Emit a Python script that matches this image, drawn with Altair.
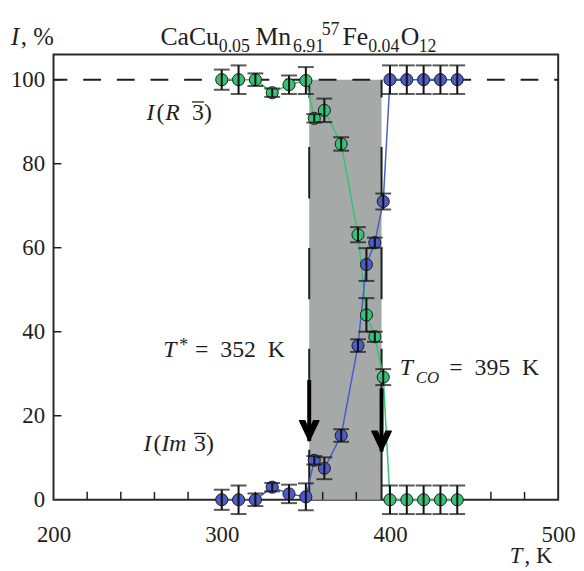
import altair as alt
import pandas as pd

# ---------------- data ----------------
T = [300, 310, 320, 330, 340, 350, 355, 361, 371, 381, 386, 391, 396, 400, 410, 420, 430, 440]
I_R3 = [100, 100, 100, 96.9, 98.8, 99.8, 90.8, 92.7, 84.7, 63.1, 44.0, 38.8, 29.2, 0, 0, 0, 0, 0]
ERR_R3 = [2.4, 3.4, 1.5, 1.0, 2.2, 3.2, 1.0, 2.8, 1.6, 1.8, 4.0, 1.2, 1.9, 3.4, 3.4, 3.4, 3.4, 3.4]
I_IM3 = [0, 0, 0, 3.0, 1.4, 0.7, 9.4, 7.5, 15.3, 36.7, 56.0, 61.2, 71.0, 100, 100, 100, 100, 100]
ERR_IM3 = [2.4, 3.4, 1.5, 1.0, 2.2, 3.2, 1.0, 2.6, 1.5, 1.5, 3.9, 1.2, 1.9, 3.4, 3.4, 3.4, 3.4, 3.4]
SERIES = ["R", "Im"]

T_STAR = 352
T_CO = 395
FULL_LEVEL = 100
ARROW_T = [352, 395]
ARROW_FROM = [28.5, 26.5]
ARROW_TO = [14.0, 11.5]

X_TICK_LABELS = [200, 300, 400, 500]
Y_TICK_LABELS = [0, 20, 40, 60, 80, 100]
X_MINOR = [220, 240, 260, 280, 300, 320, 340, 360, 380, 400, 420, 440, 460, 480]
Y_MINOR = [20, 40, 60, 80, 100]

# ---------------- layout / style ----------------
W, H = 510, 450
ORIGIN = (54, 52)  # page position of the plot area's top-left corner
X_DOMAIN = [200, 500]
Y_DOMAIN = [0, 106]
FONT = "Liberation Serif, DejaVu Serif, serif"
INK = "#1e1e1e"
FILL = {"R": "#2fae62", "Im": "#4657b0"}
LINE = {"R": "#36c274", "Im": "#4b5cc9"}

rows = []
for name, vals, errs in (("R", I_R3, ERR_R3), ("Im", I_IM3, ERR_IM3)):
    for t, v, e in zip(T, vals, errs):
        rows.append(dict(series=name, T=t, I=v, lo=v - e, hi=v + e))
df = pd.DataFrame(rows)

xs = alt.Scale(domain=X_DOMAIN, nice=False, zero=False)
ys = alt.Scale(domain=Y_DOMAIN, nice=False, zero=False)
x_axis = alt.Axis(values=X_TICK_LABELS, ticks=False, tickSize=0, domain=False, grid=False,
                  labelFont=FONT, labelFontSize=23, labelColor=INK, labelPadding=42,
                  labelBaseline="alphabetic", labelFlush=False, labelOverlap=False, title=None)
y_axis = alt.Axis(values=Y_TICK_LABELS, ticks=False, tickSize=0, domain=False, grid=False,
                  labelFont=FONT, labelFontSize=23, labelColor=INK, labelPadding=9,
                  labelBaseline="middle", labelFlush=False, labelOverlap=False, title=None)


def X(f):
    return alt.X(f, scale=xs, axis=x_axis, title=None)


def Y(f):
    return alt.Y(f, scale=ys, axis=y_axis, title=None)


color_line = alt.Color("series:N", scale=alt.Scale(domain=SERIES, range=[LINE[s] for s in SERIES]), legend=None)
color_fill = alt.Color("series:N", scale=alt.Scale(domain=SERIES, range=[FILL[s] for s in SERIES]), legend=None)

rect = alt.Chart(pd.DataFrame({"t0": [T_STAR], "t1": [T_CO], "lo": [0], "hi": [FULL_LEVEL]})).mark_rect(
    color="#a5aaa9").encode(x=X("t0:Q"), x2="t1:Q", y=Y("lo:Q"), y2="hi:Q")

hline = alt.Chart(pd.DataFrame({"a": [X_DOMAIN[0]], "b": [X_DOMAIN[1]], "lvl": [FULL_LEVEL]})).mark_rule(
    color=INK, strokeWidth=2, strokeDash=[18, 16], strokeDashOffset=4).encode(x=X("a:Q"), x2="b:Q", y=Y("lvl:Q"))

vlines = alt.Chart(pd.DataFrame({"t": [T_STAR, T_CO], "top": [FULL_LEVEL] * 2, "bot": [0, 0]})).mark_rule(
    color=INK, strokeWidth=2, strokeDash=[52, 50], strokeDashOffset=34).encode(
    x=X("t:Q"), y=Y("top:Q"), y2="bot:Q")

lines = alt.Chart(df).mark_line(strokeWidth=1.5).encode(x=X("T:Q"), y=Y("I:Q"), color=color_line)

points = alt.Chart(df).mark_circle(size=150, opacity=1, stroke="#1a1a1a", strokeWidth=1).encode(
    x=X("T:Q"), y=Y("I:Q"), color=color_fill)

ebar = alt.Chart(df).mark_rule(color="#111", strokeWidth=2).encode(x=X("T:Q"), y=Y("lo:Q"), y2="hi:Q")
cap_lo = alt.Chart(df).mark_tick(orient="horizontal", size=16, thickness=2, color="#111").encode(
    x=X("T:Q"), y=Y("lo:Q"))
cap_hi = alt.Chart(df).mark_tick(orient="horizontal", size=16, thickness=2, color="#111").encode(
    x=X("T:Q"), y=Y("hi:Q"))

arrows_df = pd.DataFrame({"t": ARROW_T, "y0": ARROW_FROM, "y1": ARROW_TO})
shaft = alt.Chart(arrows_df).mark_rule(color="#000", strokeWidth=4).encode(x=X("t:Q"), y=Y("y0:Q"), y2="y1:Q")
HEAD = "M0,0 L-1,-2.1 L-0.45,-2.1 L0,-1.05 L0.45,-2.1 L1,-2.1 Z"
head = alt.Chart(arrows_df).mark_point(shape=HEAD, size=380, filled=True, color="#000", opacity=1,
                                       stroke="#000", strokeWidth=1.5, strokeJoin="round").encode(
    x=X("t:Q"), y=Y("y1:Q"))

xminor = alt.Chart(pd.DataFrame({"t": X_MINOR})).mark_rule(color=INK, strokeWidth=1.5).encode(
    x=X("t:Q"), y=alt.value(H), y2=alt.value(H - 8))
yminor = alt.Chart(pd.DataFrame({"v": Y_MINOR})).mark_rule(color=INK, strokeWidth=1.5).encode(
    y=Y("v:Q"), x=alt.value(0), x2=alt.value(8))

data_group = alt.layer(rect, hline, vlines, xminor, yminor, lines, points, ebar, cap_lo, cap_hi, shaft, head)

# ---------------- text annotations (page pixel positions, baseline) ----------------
SP = "\u2002"
pieces = [
    # text, page x, page baseline y, font size, italic
    ("CaCu", 162, 42, 26, False), ("0.05", 221, 49, 18, False), ("Mn", 258, 42, 26, False),
    ("6.91", 296, 49, 18, False), ("57", 325, 32, 18, False), ("Fe", 346, 42, 26, False),
    ("0.04", 372, 49, 18, False), ("O", 405, 42, 26, False), ("12", 423, 49, 18, False),
    ("I", 11, 42, 25, True), (", %", 21, 42, 25, False),
    ("T", 515, 566, 23, True), (", K", 530, 566, 23, False),
    ("I", 148, 118, 24, True), ("(", 158, 118, 24, False), ("R", 167, 118, 24, True),
    ("3", 194, 118, 24, False), (")", 206, 118, 24, False),
    ("T", 165, 358, 24, True), ("*", 181, 352, 18, False), ("=" + SP + "352" + SP + "K", 197, 358, 24, False),
    ("I", 145, 453, 24, True), ("(", 155, 453, 24, False), ("Im", 163, 453, 24, True),
    ("3", 196, 453, 24, False), (")", 208, 453, 24, False),
    ("T", 404, 376, 24, True), ("CO", 420, 384, 17, True), ("=" + SP + "395" + SP + "K", 454, 376, 24, False),
]
tdf = pd.DataFrame(pieces, columns=["text", "px", "py", "size", "italic"])
tdf["cx"] = tdf["px"] - ORIGIN[0]
tdf["cy"] = tdf["py"] - ORIGIN[1]

# overlines over the "3" digits (page pixels: x start, x end, y)
bars = pd.DataFrame({"x0": [194, 196], "x1": [206, 208], "y": [100, 435]})
bars["cx0"] = bars["x0"] - ORIGIN[0]
bars["cx1"] = bars["x1"] - ORIGIN[0]
bars["cy"] = bars["y"] - ORIGIN[1]

tscale_x = alt.Scale(domain=[0, W], nice=False, zero=False)
tscale_y = alt.Scale(domain=[H, 0], nice=False, zero=False)
tx = alt.X("cx:Q", scale=tscale_x, axis=None)
ty = alt.Y("cy:Q", scale=tscale_y, axis=None)


def text_layer(italic):
    return alt.Chart(tdf[tdf["italic"] == italic]).mark_text(
        font=FONT, fontStyle="italic" if italic else "normal", align="left", baseline="alphabetic",
        color=INK).encode(x=tx, y=ty, text="text:N", size=alt.Size("size:Q", scale=None, legend=None))


overline = alt.Chart(bars).mark_rule(color=INK, strokeWidth=1.3).encode(
    x=alt.X("cx0:Q", scale=tscale_x, axis=None), x2="cx1:Q", y=alt.Y("cy:Q", scale=tscale_y, axis=None))

text_group = alt.layer(text_layer(False), text_layer(True), overline)

chart = alt.layer(data_group, text_group).resolve_scale(
    x="independent", y="independent", size="independent"
).properties(
    width=W, height=H,
    autosize=alt.AutoSizeParams(type="none"),
    padding={"left": 46, "top": 44, "right": 18, "bottom": 68},
).configure_view(stroke="#2a2a2a", strokeWidth=2)

chart.save("out.html", embed_options={"renderer": "svg", "actions": False})
